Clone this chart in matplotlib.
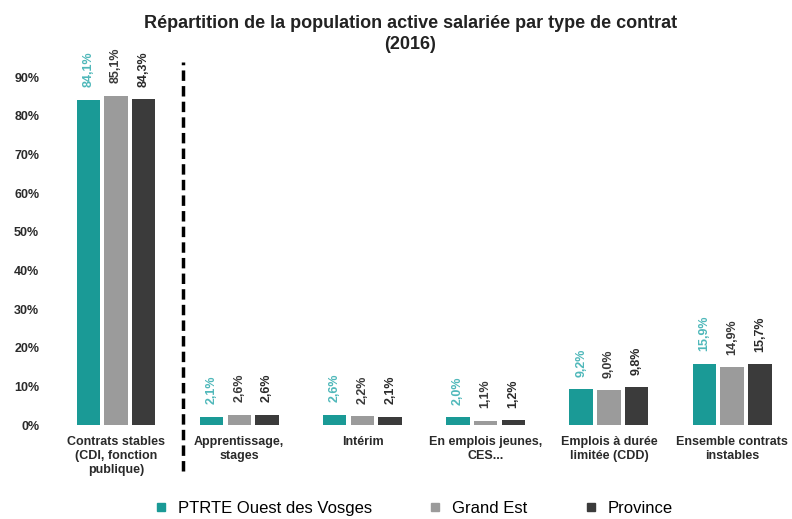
import matplotlib
matplotlib.use("Agg")
import matplotlib.pyplot as plt
import numpy as np
from matplotlib.lines import Line2D

plt.rcParams.update({"font.family": ["Liberation Sans", "DejaVu Sans"]})

# Data
categories = ["Contrats stables\n(CDI, fonction\npublique)", "Apprentissage,\nstages",
              "Intérim", "En emplois jeunes,\nCES...", "Emplois à durée\nlimitée (CDD)",
              "Ensemble contrats\ninstables"]
series = ["PTRTE Ouest des Vosges", "Grand Est", "Province"]
ptrte = [84.1, 2.1, 2.6, 2.0, 9.2, 15.9]
grand_est = [85.1, 2.6, 2.2, 1.1, 9.0, 14.9]
province = [84.3, 2.6, 2.1, 1.2, 9.8, 15.7]
yticks = [0, 10, 20, 30, 40, 50, 60, 70, 80, 90]

COLORS = ["#1a9a96", "#9b9b9b", "#3b3b3b"]
LABEL_COLORS = ["#4fb8ba", "#3a3a3a", "#2a2a2a"]

fig = plt.figure(figsize=(7.92, 5.19), dpi=100)
ax = fig.add_axes([60 / 792, 1 - 425 / 519, 730 / 792, (425 - 77) / 519])

x = np.arange(len(categories))
width = 0.19
offsets = [-0.225, 0.0, 0.225]
for vals, off, col, lcol in zip([ptrte, grand_est, province], offsets, COLORS, LABEL_COLORS):
    ax.bar(x + off, vals, width, color=col)
    for xi, v in zip(x, vals):
        ax.annotate(f"{v:.1f}%".replace(".", ","), (xi + off, v), xytext=(0, 9),
                    textcoords="offset points", rotation=90, ha="center", va="bottom",
                    fontsize=9, fontweight="bold", color=lcol, annotation_clip=False)

ax.set_xlim(-0.455, 5.47)
ax.set_ylim(0, 90)
ax.set_yticks(yticks)
ax.set_yticklabels([f"{t}%" for t in yticks], fontsize=9, fontweight="bold", color="#2a2a2a")
ax.set_xticks(x)
ax.set_xticklabels(categories, fontsize=9, fontweight="bold", color="#2a2a2a")
ax.tick_params(length=0, axis="y", pad=15)
ax.tick_params(length=0, axis="x", pad=8)
for s in ax.spines.values():
    s.set_visible(False)

# dashed separator
ax.plot([0.544, 0.544], [-12, 94], color="black", lw=2.5, ls=(0, (3, 1.5)), clip_on=False)

fig.text(0.518, 0.934, "Répartition de la population active salariée par type de contrat\n(2016)",
         ha="center", va="center", fontsize=13, fontweight="bold", color="#222222",
         linespacing=1.3)

handles = [Line2D([], [], marker="s", ls="", color=c, markersize=6) for c in COLORS]
fig.legend(handles, series, loc="center", bbox_to_anchor=(0.52, 0.02), ncol=3,
           frameon=False, fontsize=12, handletextpad=0.4, columnspacing=3.2,
           handlelength=1.2)

fig.savefig("out.png", dpi=100)
